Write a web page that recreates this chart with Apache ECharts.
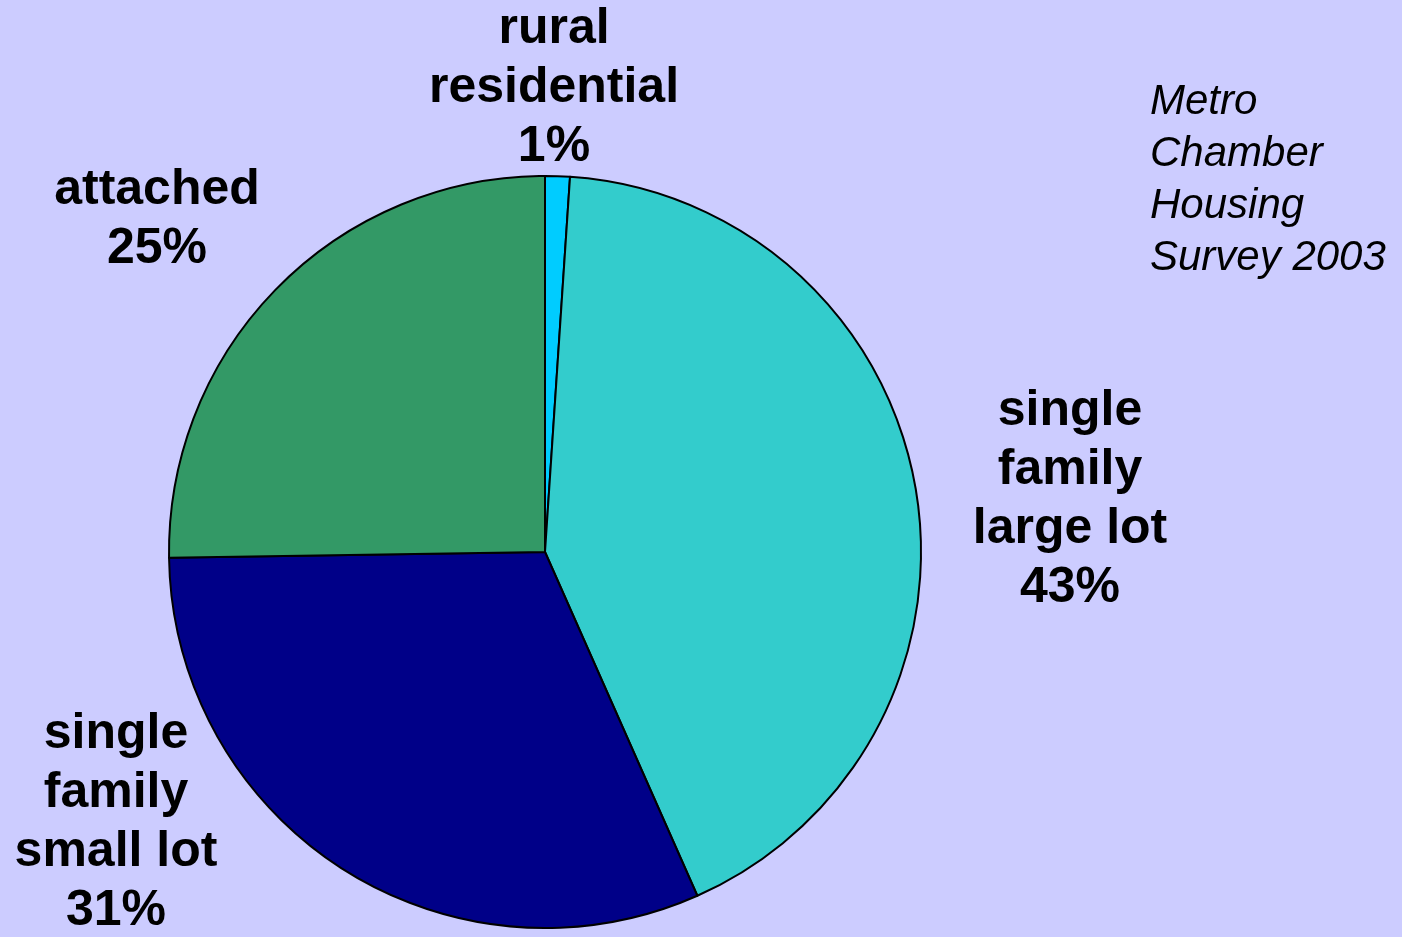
<!DOCTYPE html>
<html>
<head>
<meta charset="utf-8">
<title>Metro Chamber Housing Survey 2003</title>
<script src="https://cdn.jsdelivr.net/npm/echarts@6/dist/echarts.min.js"></script>
<style>
    html, body { margin: 0; padding: 0; background: #CCCCFF; }
    #Echarts1 { width: 1402px; height: 937px; }
</style>
</head>
<body>
<div id="Echarts1"></div>
<script>
// 数据
var categories = ['rural\nresidential', 'single\nfamily\nlarge lot', 'single\nfamily\nsmall lot', 'attached'];
var shares = [1.06, 42.3, 31.4, 25.24];          // 从图上量出的扇区大小
var pctLabels = ['1%', '43%', '31%', '25%'];     // 图上标注的百分比
var sliceColors = ['#00CCFF', '#33CCCC', '#000088', '#339966'];

// 标签位置 (中心点)
var labelPos = [[554, 88], [1070, 500], [116, 823], [157, 220]];

initEcharts1();

function initEcharts1() {
    var myChart = echarts.init(document.getElementById('Echarts1'));

    var pieData = [];
    for (var i = 0; i < categories.length; i++) {
        pieData.push({ value: shares[i], name: categories[i], itemStyle: { color: sliceColors[i] } });
    }

    var option = {
        backgroundColor: '#CCCCFF',
        animation: false,
        title: {
            text: 'Metro\nChamber\nHousing\nSurvey 2003',
            left: 1150,
            top: 76,
            padding: 0,
            textStyle: {
                fontFamily: 'Liberation Sans, Arial, sans-serif',
                fontSize: 42,
                fontStyle: 'italic',
                fontWeight: 'normal',
                color: '#000',
                lineHeight: 52
            }
        },
        series: [
            {
                type: 'pie',
                center: [545, 552],
                radius: 376,
                startAngle: 90,
                clockwise: true,
                avoidLabelOverlap: false,
                itemStyle: {
                    borderColor: '#000',
                    borderWidth: 2
                },
                label: {
                    show: true,
                    position: 'outside',
                    formatter: function (p) {
                        return p.name + '\n' + pctLabels[p.dataIndex];
                    },
                    fontFamily: 'Liberation Sans, Arial, sans-serif',
                    fontSize: 50,
                    fontWeight: 'bold',
                    color: '#000',
                    lineHeight: 59,
                    align: 'center'
                },
                labelLine: { show: false },
                labelLayout: function (p) {
                    return {
                        x: labelPos[p.dataIndex][0],
                        y: labelPos[p.dataIndex][1],
                        align: 'center',
                        verticalAlign: 'middle',
                        moveOverlap: false
                    };
                },
                emphasis: { disabled: true },
                data: pieData
            }
        ]
    };

    myChart.setOption(option);
}
</script>
</body>
</html>
